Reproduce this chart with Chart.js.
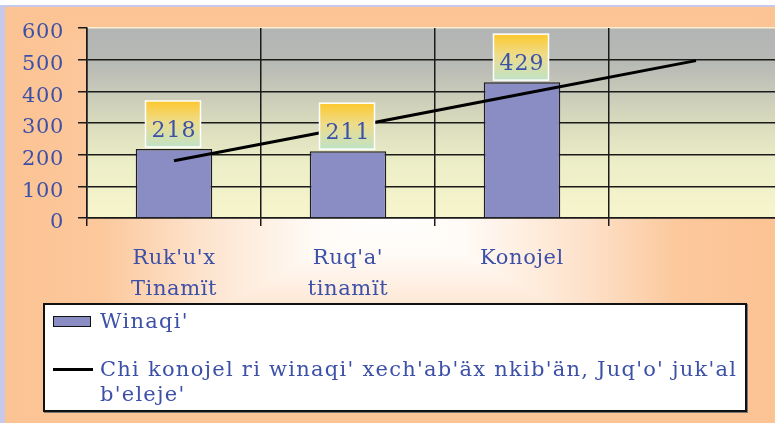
<!DOCTYPE html>
<html>
<head>
<meta charset="utf-8">
<script src="https://cdn.jsdelivr.net/npm/chart.js@4.4.1/dist/chart.umd.min.js"></script>
<style>
  html, body { margin: 0; padding: 0; background: #fff; }
  #wrap { position: relative; width: 775px; height: 423px; overflow: hidden; }
  #cbox { position: absolute; left: 0; top: 0; width: 800px; height: 423px; }
  #legend {
    position: absolute; left: 43px; top: 303px; width: 700px; height: 105px;
    background: #fff; border: 2px solid #111; box-shadow: 1px 1px 0 #777;
    font-family: 'DejaVu Serif', serif; font-size: 21px; color: #3c50a8;
    letter-spacing: 1.25px;
  }
  .item { position: absolute; left: 55px; line-height: 25px; white-space: nowrap; }
  .sw-bar { position: absolute; left: 8px; width: 36px; height: 9px; background: #8a8cc4; border: 1.5px solid #111; }
  .sw-line { position: absolute; left: 8px; width: 40px; height: 3px; background: #000; }
</style>
</head>
<body>
<div id="wrap">
  <div id="cbox"><canvas id="c"></canvas></div>
  <div id="legend"></div>
</div>
<script>
// ---- data ----
const categories = [["Ruk'u'x", "Tinamït"], ["Ruq'a'", "tinamït"], "Konojel", ""];
const winaqi = [218, 211, 429, null];
const trendValues = [180.5, 286, 391.5, 497];
const seriesNames = ["Winaqi'", "Chi konojel ri winaqi' xech'ab'äx nkib'än, Juq'o' juk'al b'eleje'"];
const yMin = 0, yMax = 600, yStep = 100;

const TEXT = '#3c50a8';
const FONT = 'DejaVu Serif';

// legend (HTML, real text)
const lg = document.getElementById('legend');
lg.innerHTML =
  '<div class="sw-bar" style="top:11px"></div><div class="item" style="top:4px">' + seriesNames[0] + '</div>' +
  '<div class="sw-line" style="top:63px"></div><div class="item" style="top:52px">' +
  seriesNames[1].replace(" b'eleje'", "<br>b'eleje'") + '</div>';

function levelColorStops(g) {
  const stops = [[0, '#ffffff'], [0.2, '#fffaf5'], [0.5, '#fde2cb'], [0.75, '#fcc89c'], [1, '#fcc393']];
  stops.forEach(([lv, col]) => {
    g.addColorStop(0.5 - lv / 2, col);
    g.addColorStop(0.5 + lv / 2, col);
  });
}

const bgPlugin = {
  id: 'bg',
  beforeDraw(chart) {
    const ctx = chart.ctx;
    ctx.save();
    ctx.fillStyle = '#ffffff';
    ctx.fillRect(0, 0, chart.width, chart.height);
    ctx.fillStyle = '#c8c8ea';
    ctx.fillRect(0, 5, 775, 2);
    ctx.fillRect(0, 5, 5, 423);
    const x0 = 5, y0 = 7, x1 = 775, y1 = 423;
    const cx = (x0 + x1) / 2, cy = (y0 + y1) / 2;
    let g = ctx.createLinearGradient(0, y0, 0, y1);
    levelColorStops(g);
    ctx.fillStyle = g;
    ctx.fillRect(x0, y0, x1 - x0, y1 - y0);
    g = ctx.createLinearGradient(x0, 0, x1, 0);
    levelColorStops(g);
    ctx.fillStyle = g;
    ctx.beginPath();
    ctx.moveTo(cx, cy); ctx.lineTo(x0, y0); ctx.lineTo(x0, y1); ctx.closePath();
    ctx.moveTo(cx, cy); ctx.lineTo(x1, y0); ctx.lineTo(x1, y1); ctx.closePath();
    ctx.fill();
    // plot area
    const a = chart.chartArea;
    const pg = ctx.createLinearGradient(0, a.top, 0, a.bottom);
    pg.addColorStop(0, '#b3b5b5');
    pg.addColorStop(0.18, '#b7b9b5');
    pg.addColorStop(0.5, '#d9dbbd');
    pg.addColorStop(0.72, '#edefc8');
    pg.addColorStop(1, '#f7f5cc');
    ctx.fillStyle = pg;
    ctx.fillRect(a.left, a.top, a.right - a.left, a.bottom - a.top);
    ctx.fillStyle = '#fbf0d0';
    ctx.fillRect(a.left, a.top - 1, a.right - a.left, 1.5);
    ctx.restore();
    ctx.letterSpacing = '0.6px';
  }
};

const labelPlugin = {
  id: 'boxLabels',
  afterDatasetsDraw(chart) {
    const ctx = chart.ctx;
    const meta = chart.getDatasetMeta(1);
    ctx.save();
    ctx.letterSpacing = '1px';
    meta.data.forEach((el, i) => {
      const v = winaqi[i];
      if (v == null) return;
      const w = 55, h = 46;
      const left = el.x - w / 2 - 1, bottom = el.y - 2, top = bottom - h;
      const g = ctx.createLinearGradient(0, top, 0, bottom);
      g.addColorStop(0, '#fdc82c');
      g.addColorStop(0.45, '#eedc8a');
      g.addColorStop(1, '#c0e2c6');
      ctx.fillStyle = g;
      ctx.fillRect(left, top, w, h);
      ctx.strokeStyle = '#ffffff';
      ctx.lineWidth = 1.5;
      ctx.strokeRect(left, top, w, h);
      ctx.fillStyle = TEXT;
      ctx.font = '22px "' + FONT + '"';
      ctx.textAlign = 'center';
      ctx.textBaseline = 'alphabetic';
      ctx.fillText(String(v), el.x, bottom - 10);
    });
    ctx.restore();
  }
};

new Chart(document.getElementById('c'), {
  type: 'bar',
  data: {
    labels: categories,
    datasets: [
      {
        type: 'line',
        label: seriesNames[1],
        data: trendValues,
        borderColor: '#000',
        borderWidth: 3,
        pointRadius: 0,
        fill: false,
        tension: 0,
        order: 0
      },
      {
        type: 'bar',
        label: seriesNames[0],
        data: winaqi,
        backgroundColor: '#8a8cc4',
        borderColor: '#1e1e1e',
        borderWidth: 1.5,
        categoryPercentage: 1,
        barPercentage: 0.44,
        order: 1
      }
    ]
  },
  options: {
    responsive: true,
    maintainAspectRatio: false,
    animation: false,
    layout: { padding: { top: 28, right: 17, left: 0, bottom: 0 } },
    plugins: { legend: { display: false }, tooltip: { enabled: false } },
    scales: {
      x: {
        afterFit(s) { s.height = 205; },
        grid: { color: '#1a1a1a', lineWidth: 1.5, tickLength: 8, offset: true, tickColor: '#1a1a1a' },
        border: { color: '#1a1a1a', width: 1.5 },
        ticks: { color: TEXT, font: { family: FONT, size: 21, lineHeight: 1.48 }, padding: 17, maxRotation: 0, autoSkip: false }
      },
      y: {
        min: yMin, max: yMax,
        afterFit(s) { s.width = 87; },
        grid: {
          color: (c) => (c.tick && c.tick.value === yMax) ? 'rgba(0,0,0,0)' : '#1a1a1a',
          tickColor: '#1a1a1a',
          lineWidth: 1.5, tickLength: 9
        },
        border: { color: '#1a1a1a', width: 1.5 },
        ticks: { stepSize: yStep, color: TEXT, font: { family: FONT, size: 21 }, padding: 14, labelOffset: 5 }
      }
    }
  },
  plugins: [bgPlugin, labelPlugin]
});
</script>
</body>
</html>
